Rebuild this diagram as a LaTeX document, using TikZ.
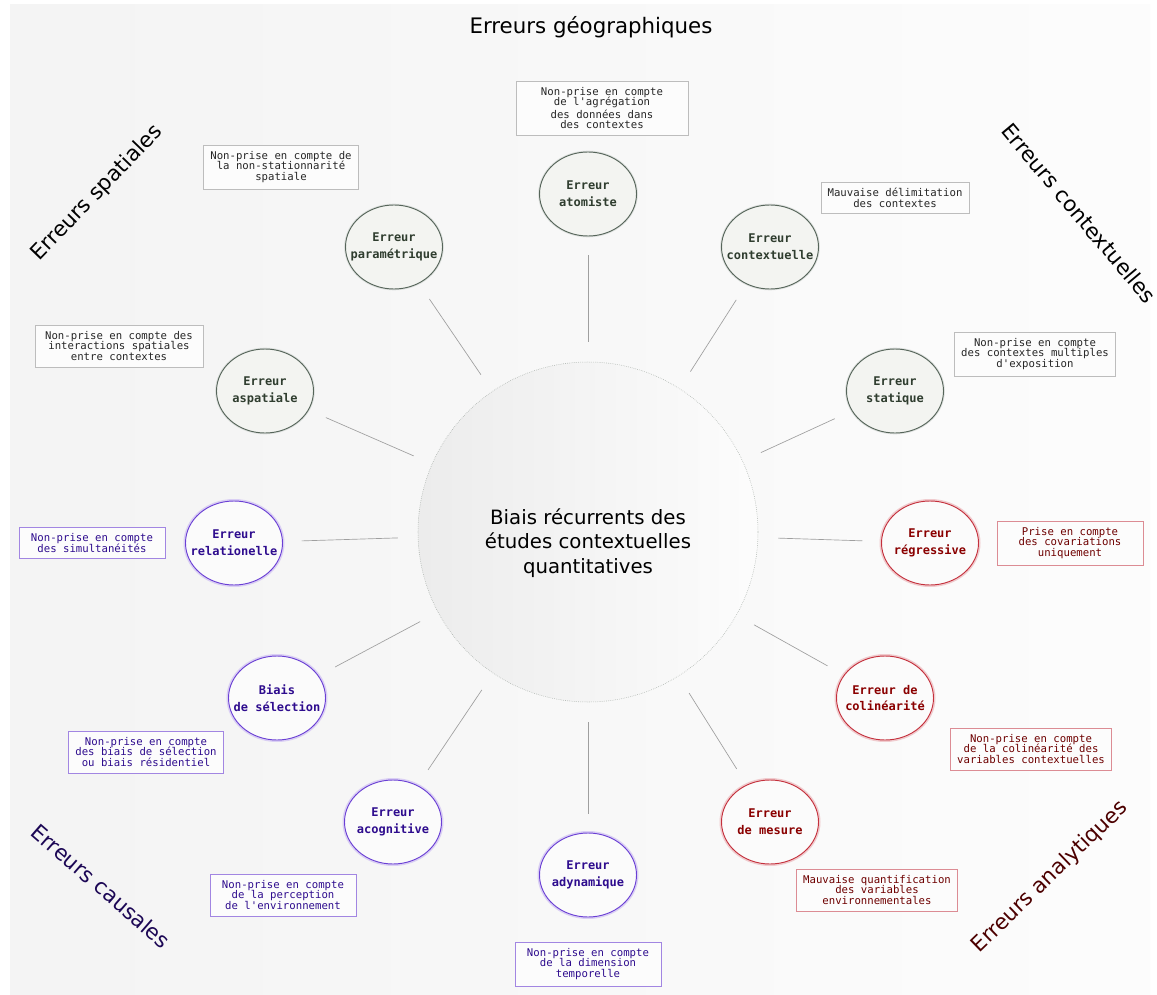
\documentclass[tikz,border=0pt]{standalone}
\usepackage{fontspec}
\setmainfont{DejaVu Sans}
\setmonofont{DejaVu Sans Mono}
\usetikzlibrary{shapes.geometric}

\definecolor{geoline}{HTML}{56655A}
\definecolor{geofill}{HTML}{F3F4F1}
\definecolor{geotext}{HTML}{2F3D2F}
\definecolor{geobox}{HTML}{BDBDBD}
\definecolor{caualine}{HTML}{6A3FD4}
\definecolor{cautext}{HTML}{2E0C8E}
\definecolor{caubox}{HTML}{A286E2}
\definecolor{analine}{HTML}{C4303C}
\definecolor{anatext}{HTML}{8A0000}
\definecolor{anabox}{HTML}{DC8C94}

\begin{document}
\begin{tikzpicture}[x=0.75pt, y=-0.75pt,
  titre/.style = {font=\fontsize{16}{18}\selectfont, align=center},
  erreur/.style = {shape=ellipse, align=center, line width=0.7pt,
    minimum width=72.75pt, minimum height=63pt,
    inner xsep=-12pt, inner ysep=0pt, fill=white!97!gray,
    font=\ttfamily\bfseries\fontsize{9}{12.5}\selectfont},
  geo/.style = {erreur, draw=geoline, fill=geofill, text=geotext,
    preaction={draw=geoline!20, line width=2pt}},
  cau/.style = {erreur, draw=caualine, text=cautext,
    preaction={draw=caualine!25, line width=3pt}},
  ana/.style = {erreur, draw=analine, text=anatext,
    preaction={draw=analine!25, line width=3pt}},
  note/.style = {shape=rectangle, align=center, fill=white!98!gray,
    minimum width=109.5pt, inner xsep=5pt, inner ysep=4.5pt,
    font=\ttfamily\fontsize{8}{8.1}\selectfont},
  geonote/.style = {note, draw=geobox, text=black!85},
  caunote/.style = {note, draw=caubox, text=cautext},
  ananote/.style = {note, draw=anabox, text=anatext!80!black},
  link/.style = {draw=gray!75, line width=0.5pt, shorten <=15pt, shorten >=14pt}]

\useasboundingbox (0,0) rectangle (1157,995);

% fond
\fill[white] (0,0) rectangle (1157,995);
\shade[left color=gray!9, right color=gray!2] (10,5) rectangle (1150,995);

% cercle central
\node[shape=circle, minimum size=255pt, draw=geoline!60, densely dotted,
  left color=gray!15, right color=gray!2] (centre) at (588,532) {};
\node[titre, font=\fontsize{14.8}{18.6}\selectfont] (centretxt) at (588,543)
  {Biais récurrents des\\études contextuelles\\quantitatives};

% familles d'erreurs
\node[titre] (geographiques) at (591,27) {Erreurs géographiques};
\node[titre, rotate=46] (spatiales) at (97,193) {Erreurs spatiales};
\node[titre, rotate=-50] (contextuelles) at (1079,213) {Erreurs contextuelles};
\node[titre, rotate=-41, text=cautext!60!black] (causales) at (101,886) {Erreurs causales};
\node[titre, rotate=44, text=anatext!55!black] (analytiques) at (1050,877) {Erreurs analytiques};

% erreurs geographiques
\node[geo] (atomiste) at (588,194) {Erreur\\atomiste};
\node[geo] (parametrique) at (394,247) {Erreur\\paramétrique};
\node[geo] (contextuelle) at (770,247) {Erreur\\contextuelle};
\node[geo] (aspatiale) at (265,391) {Erreur\\aspatiale};
\node[geo] (statique) at (895,391) {Erreur\\statique};

% erreurs causales
\node[cau] (relationelle) at (234,543) {Erreur\\relationelle};
\node[cau] (selection) at (277,698) {Biais\\de sélection};
\node[cau] (acognitive) at (393,822) {Erreur\\acognitive};
\node[cau] (adynamique) at (588,875) {Erreur\\adynamique};

% erreurs analytiques
\node[ana] (regressive) at (930,543) {Erreur\\régressive};
\node[ana] (colinearite) at (885,698) {Erreur de\\colinéarité};
\node[ana] (mesure) at (770,822) {Erreur\\de mesure};

% definitions
\node[geonote, minimum width=129pt] (n-atomiste) at (602,108) {Non-prise en compte\\de l'agrégation\\des données dans\\des contextes};
\node[geonote] (n-parametrique) at (281,167) {Non-prise en compte de\\la non-stationnarité\\spatiale};
\node[geonote] (n-contextuelle) at (895,198) {Mauvaise délimitation\\des contextes};
\node[geonote, minimum width=126pt] (n-aspatiale) at (119,346) {Non-prise en compte des\\interactions spatiales\\entre contextes};
\node[geonote] (n-statique) at (1035,354) {Non-prise en compte\\des contextes multiples\\d'exposition};
\node[caunote] (n-relationelle) at (92,543) {Non-prise en compte\\des simultanéités};
\node[caunote] (n-selection) at (146,752) {Non-prise en compte\\des biais de sélection\\ou biais résidentiel};
\node[caunote] (n-acognitive) at (283,895) {Non-prise en compte\\de la perception\\de l'environnement};
\node[caunote] (n-adynamique) at (588,964) {Non-prise en compte\\de la dimension\\temporelle};
\node[ananote] (n-regressive) at (1070,543) {Prise en compte\\des covariations\\uniquement};
\node[ananote] (n-colinearite) at (1031,749) {Non-prise en compte\\de la colinéarité des\\variables contextuelles};
\node[ananote] (n-mesure) at (877,890) {Mauvaise quantification\\des variables\\environnementales};

% liens
\foreach \e in {atomiste, parametrique, contextuelle, aspatiale, statique,
  relationelle, selection, acognitive, adynamique,
  regressive, colinearite, mesure}
  \draw[link] (centre) -- (\e);
\end{tikzpicture}
\end{document}
